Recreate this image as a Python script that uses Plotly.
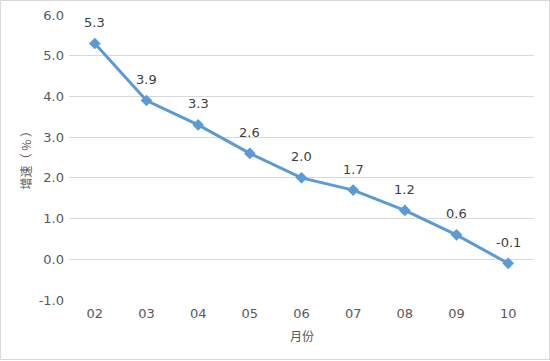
import plotly.graph_objects as go

months = ["02", "03", "04", "05", "06", "07", "08", "09", "10"]
growth = [5.3, 3.9, 3.3, 2.6, 2.0, 1.7, 1.2, 0.6, -0.1]
labels = ["5.3", "3.9", "3.3", "2.6", "2.0", "1.7", "1.2", "0.6", "-0.1"]
y_ticks = [-1, 0, 1, 2, 3, 4, 5, 6]
y_tick_text = ["-1.0", "0.0", "1.0", "2.0", "3.0", "4.0", "5.0", "6.0"]

font_family = "DejaVu Sans, Noto Sans CJK SC, sans-serif"
cjk_font = "Noto Sans CJK SC, sans-serif"
gray = "#595959"

fig = go.Figure()
fig.add_trace(go.Scatter(
    x=months, y=growth, mode="lines+markers",
    line=dict(color="#5B9BD5", width=3),
    marker=dict(symbol="diamond", size=9, color="#5B9BD5"),
    cliponaxis=False, showlegend=False, hoverinfo="skip",
))

L, R, T, B = 69, 16, 15, 61
W, H = 550, 361
pw, ph = W - L - R, H - T - B

label_annots = [
    dict(x=i, y=v, text=t, xref="x", yref="y", showarrow=False, yshift=21,
         font=dict(size=13, color="#404040", family=font_family))
    for i, (v, t) in enumerate(zip(growth, labels))
]

fig.update_layout(
    width=W, height=H,
    margin=dict(l=L, r=R, t=T, b=B, autoexpand=False),
    paper_bgcolor="white", plot_bgcolor="white",
    font=dict(family=font_family, size=13, color=gray),
    xaxis=dict(
        type="category", categoryarray=months, range=[-0.5, len(months) - 0.5],
        showgrid=False, showline=False, zeroline=False,
        ticks="", tickfont=dict(size=13, color=gray), automargin=False,
        ticklabelstandoff=4,
    ),
    yaxis=dict(
        range=[-1, 6], tickvals=y_ticks, ticktext=y_tick_text,
        showgrid=True, gridcolor="#D9D9D9", gridwidth=1,
        zeroline=False, showline=False, ticks="", automargin=False,
        tickfont=dict(size=13, color=gray), ticklabelstandoff=4,
    ),
    annotations=label_annots + [
        dict(text="月份", xref="paper", yref="paper", x=0.5, y=-(335 - T - ph) / ph,
             showarrow=False, font=dict(size=12, color=gray, family=cjk_font), yanchor="middle"),
        dict(text="增速（ % ）", xref="paper", yref="paper", x=-(L - 25) / pw, y=0.5,
             showarrow=False, textangle=-90, font=dict(size=12, color=gray, family=cjk_font),
             xanchor="center", yanchor="middle"),
    ],
    shapes=[dict(
        type="rect", xref="paper", yref="paper",
        x0=(0.5 - L) / pw, x1=(W - 0.5 - L) / pw,
        y0=-(B - 1.5) / ph, y1=(ph + T - 0.5) / ph,
        line=dict(color="#D9D9D9", width=1), layer="below",
    )],
)

fig.write_html("out.html", config={"displayModeBar": False},
               post_script="document.body.style.margin='0';document.body.style.overflow='hidden';")
